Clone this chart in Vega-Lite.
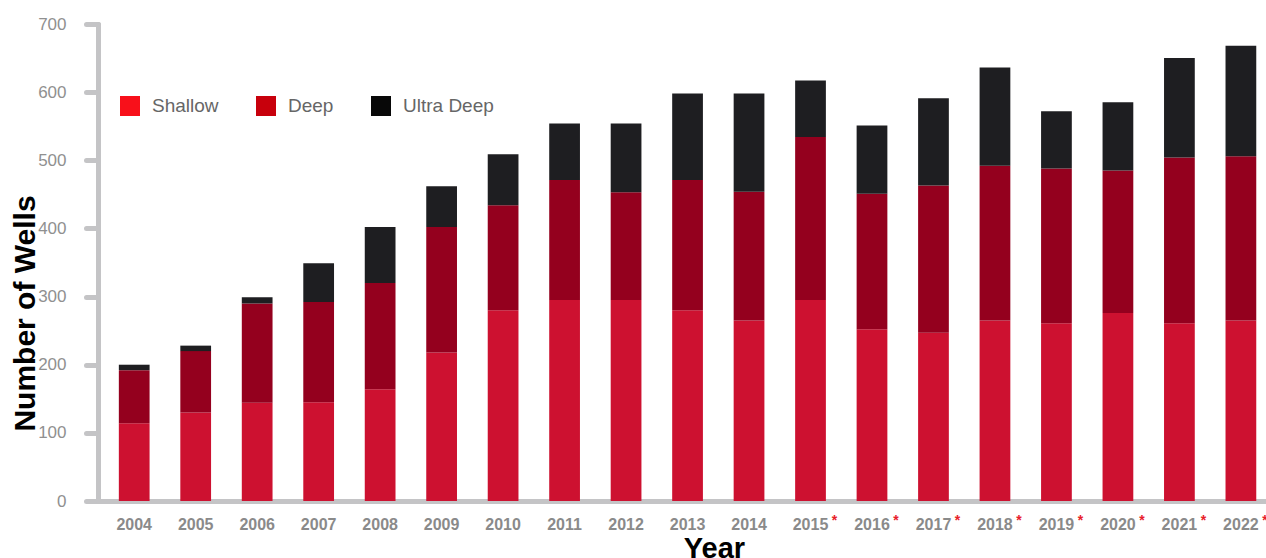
{
  "$schema": "https://vega.github.io/schema/vega-lite/v6.json",
  "autosize": {"type": "none"},
  "padding": {"left": 88, "top": 24, "right": 0, "bottom": 57},
  "width": 1178,
  "height": 477,
  "background": "white",
  "config": {
    "view": {"stroke": null},
    "font": "Liberation Sans"
  },
  "datasets": {
    "wells": [
      {"year": "2004", "type": "Shallow", "wells": 114}, {"year": "2004", "type": "Deep", "wells": 78}, {"year": "2004", "type": "Ultra Deep", "wells": 8},
      {"year": "2005", "type": "Shallow", "wells": 130}, {"year": "2005", "type": "Deep", "wells": 90}, {"year": "2005", "type": "Ultra Deep", "wells": 8},
      {"year": "2006", "type": "Shallow", "wells": 144}, {"year": "2006", "type": "Deep", "wells": 146}, {"year": "2006", "type": "Ultra Deep", "wells": 9},
      {"year": "2007", "type": "Shallow", "wells": 145}, {"year": "2007", "type": "Deep", "wells": 147}, {"year": "2007", "type": "Ultra Deep", "wells": 57},
      {"year": "2008", "type": "Shallow", "wells": 164}, {"year": "2008", "type": "Deep", "wells": 156}, {"year": "2008", "type": "Ultra Deep", "wells": 82},
      {"year": "2009", "type": "Shallow", "wells": 218}, {"year": "2009", "type": "Deep", "wells": 184}, {"year": "2009", "type": "Ultra Deep", "wells": 60},
      {"year": "2010", "type": "Shallow", "wells": 280}, {"year": "2010", "type": "Deep", "wells": 154}, {"year": "2010", "type": "Ultra Deep", "wells": 75},
      {"year": "2011", "type": "Shallow", "wells": 295}, {"year": "2011", "type": "Deep", "wells": 176}, {"year": "2011", "type": "Ultra Deep", "wells": 83},
      {"year": "2012", "type": "Shallow", "wells": 295}, {"year": "2012", "type": "Deep", "wells": 158}, {"year": "2012", "type": "Ultra Deep", "wells": 101},
      {"year": "2013", "type": "Shallow", "wells": 280}, {"year": "2013", "type": "Deep", "wells": 191}, {"year": "2013", "type": "Ultra Deep", "wells": 127},
      {"year": "2014", "type": "Shallow", "wells": 265}, {"year": "2014", "type": "Deep", "wells": 189}, {"year": "2014", "type": "Ultra Deep", "wells": 144},
      {"year": "2015", "type": "Shallow", "wells": 295}, {"year": "2015", "type": "Deep", "wells": 239}, {"year": "2015", "type": "Ultra Deep", "wells": 83},
      {"year": "2016", "type": "Shallow", "wells": 252}, {"year": "2016", "type": "Deep", "wells": 199}, {"year": "2016", "type": "Ultra Deep", "wells": 100},
      {"year": "2017", "type": "Shallow", "wells": 247}, {"year": "2017", "type": "Deep", "wells": 216}, {"year": "2017", "type": "Ultra Deep", "wells": 128},
      {"year": "2018", "type": "Shallow", "wells": 265}, {"year": "2018", "type": "Deep", "wells": 227}, {"year": "2018", "type": "Ultra Deep", "wells": 144},
      {"year": "2019", "type": "Shallow", "wells": 261}, {"year": "2019", "type": "Deep", "wells": 227}, {"year": "2019", "type": "Ultra Deep", "wells": 84},
      {"year": "2020", "type": "Shallow", "wells": 276}, {"year": "2020", "type": "Deep", "wells": 209}, {"year": "2020", "type": "Ultra Deep", "wells": 100},
      {"year": "2021", "type": "Shallow", "wells": 261}, {"year": "2021", "type": "Deep", "wells": 243}, {"year": "2021", "type": "Ultra Deep", "wells": 146},
      {"year": "2022", "type": "Shallow", "wells": 265}, {"year": "2022", "type": "Deep", "wells": 241}, {"year": "2022", "type": "Ultra Deep", "wells": 162}
    ],
    "estimated": [
      {"year": "2015", "mark": "*"}, {"year": "2016", "mark": "*"}, {"year": "2017", "mark": "*"}, {"year": "2018", "mark": "*"},
      {"year": "2019", "mark": "*"}, {"year": "2020", "mark": "*"}, {"year": "2021", "mark": "*"}, {"year": "2022", "mark": "*"}
    ]
  },
  "layer": [
    {
      "data": {"name": "wells"},
      "transform": [
        {"calculate": "indexof(['Shallow', 'Deep', 'Ultra Deep'], datum.type)", "as": "stackOrder"}
      ],
      "mark": {"type": "bar"},
      "encoding": {
        "x": {
          "field": "year", "type": "nominal", "sort": null,
          "scale": {"paddingInner": 0.5, "paddingOuter": 0.33, "align": 0.76},
          "axis": {
            "title": "Year",
            "titleFontSize": 29, "titleFontWeight": "bold", "titleColor": "#000000",
            "titleX": 626, "titleY": 33, "titleBaseline": "top", "titleAlign": "center",
            "labelAngle": 0, "labelFontSize": 16, "labelFontWeight": "bold", "labelColor": "#8a8a8a",
            "labelPadding": 15, "ticks": false,
            "domainColor": "#c4c4c6", "domainWidth": 5, "domainCap": "round",
            "grid": false
          }
        },
        "y": {
          "field": "wells", "type": "quantitative", "stack": "zero",
          "scale": {"domain": [0, 700], "nice": false},
          "axis": {
            "title": "Number of Wells",
            "values": [0, 100, 200, 300, 400, 500, 600, 700],
            "offset": -10,
            "titleFontSize": 30, "titleFontWeight": "bold", "titleColor": "#000000",
            "titleX": -73, "titleY": 289, "titleBaseline": "middle", "titleAlign": "center", "titleAngle": -90,
            "labelFontSize": 17, "labelColor": "#909090", "labelPadding": 20,
            "tickSize": 12, "tickWidth": 5, "tickColor": "#c4c4c6", "tickCap": "round",
            "domainColor": "#c4c4c6", "domainWidth": 5, "domainCap": "round",
            "grid": false
          }
        },
        "color": {
          "field": "type", "type": "nominal",
          "sort": ["Shallow", "Deep", "Ultra Deep"],
          "scale": {"domain": ["Shallow", "Deep", "Ultra Deep"], "range": ["#cd1130", "#94001e", "#1e1e21"]},
          "legend": {
            "title": null,
            "orient": "none", "legendX": 32, "legendY": 72,
            "direction": "horizontal",
            "symbolType": "square", "symbolSize": 100,
            "labelFontSize": 19, "labelColor": "#666666", "labelOffset": 12,
            "columnPadding": 22, "padding": 0,
            "encode": {
              "symbols": {
                "update": {
                  "stroke": [
                    {"test": "datum.value === 'Shallow'", "value": "#f8101a"},
                    {"test": "datum.value === 'Deep'", "value": "#c8000c"},
                    {"value": "#080808"}
                  ],
                  "strokeWidth": {"value": 10},
                  "strokeJoin": {"value": "miter"},
                  "opacity": {"value": 1}
                }
              }
            }
          }
        },
        "order": {"field": "stackOrder", "type": "quantitative", "sort": "ascending"}
      }
    },
    {
      "data": {"name": "estimated"},
      "mark": {"type": "text", "color": "#e8202a", "fontSize": 14, "fontWeight": "bold", "dx": 24, "dy": 20, "baseline": "middle"},
      "encoding": {
        "x": {"field": "year", "type": "nominal", "sort": null},
        "y": {"datum": 0},
        "text": {"field": "mark"}
      }
    }
  ]
}
